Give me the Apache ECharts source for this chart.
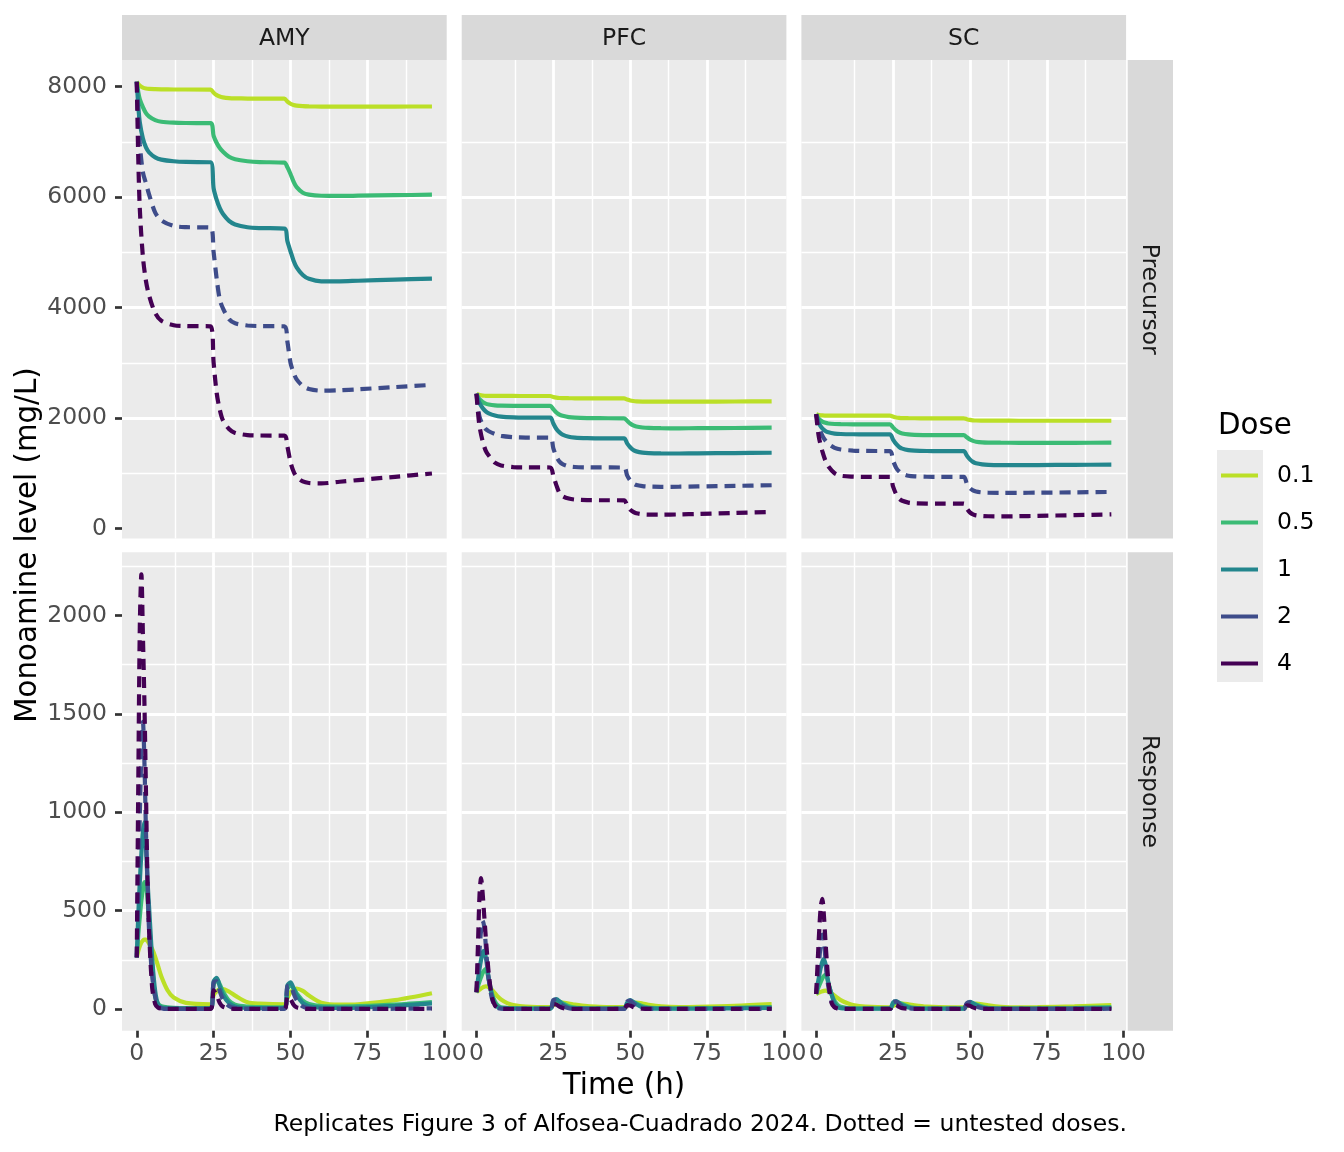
<!DOCTYPE html>
<html>
<head>
<meta charset="utf-8">
<title>Monoamine level by dose</title>
<script src="https://cdn.jsdelivr.net/npm/echarts@6/dist/echarts.min.js"></script>
<style>
  html, body { margin: 0; padding: 0; background: #ffffff; }
  #chart { width: 1344px; height: 1152px; }
</style>
</head>
<body>
<div id="chart"></div>
<script>
// facets
var REGIONS = ['AMY', 'PFC', 'SC'];
var MEASURES = ['Precursor', 'Response'];
var DOSES = ['0.1', '0.5', '1', '2', '4'];
var UNTESTED = [false, false, false, true, true]; // dotted lines

// tick labels
var X_TICKS = [0, 25, 50, 75, 100];
var Y_TICKS_PRE = [0, 2000, 4000, 6000, 8000];
var Y_TICKS_RESP = [0, 500, 1000, 1500, 2000];

// time points (h)
var TIME_PRE = [0, 0.5, 1, 2, 3, 4, 6, 8, 12, 16, 24, 25, 26, 27, 28, 30, 32, 36, 40, 48,
  49, 50, 51, 52, 54, 56, 60, 66, 72, 84, 96];
var TIME_RESP = [0, 0.5, 1, 1.5, 2, 2.5, 3, 3.5, 4, 5, 6, 7, 8, 10, 12, 16, 24,
  25, 26, 27, 28, 30, 32, 36, 40, 48, 49, 50, 51, 52, 54, 56, 60, 66, 72, 84, 96];

// precursor, one row per dose (0.1, 0.5, 1, 2, 4)
var amyPrecursor = [
  [8090, 8050, 8020, 7985, 7968, 7960, 7955, 7952, 7950, 7950, 7948, 7890, 7848, 7822, 7808, 7795, 7790, 7786, 7785, 7784, 7730, 7692, 7670, 7658, 7648, 7644, 7641, 7640, 7640, 7641, 7642],
  [8090, 7900, 7770, 7630, 7520, 7460, 7395, 7365, 7348, 7343, 7340, 7110, 6980, 6890, 6825, 6730, 6685, 6650, 6635, 6625, 6540, 6420, 6280, 6180, 6080, 6045, 6025, 6022, 6026, 6035, 6045],
  [8090, 7650, 7350, 7060, 6900, 6810, 6720, 6680, 6650, 6638, 6632, 6160, 5950, 5800, 5700, 5570, 5505, 5455, 5440, 5430, 5200, 5020, 4850, 4730, 4590, 4520, 4476, 4476, 4486, 4505, 4525],
  [8090, 7400, 6950, 6450, 6250, 6050, 5720, 5580, 5480, 5457, 5450, 5000, 4520, 4145, 3990, 3790, 3715, 3675, 3665, 3660, 3380, 3000, 2820, 2700, 2580, 2525, 2495, 2502, 2520, 2560, 2600],
  [8090, 6690, 5780, 4920, 4480, 4220, 3900, 3760, 3680, 3665, 3660, 3000, 2450, 2150, 1960, 1800, 1730, 1690, 1683, 1680, 1480, 1200, 1030, 935, 850, 822, 815, 845, 875, 935, 995]
];
var pfcPrecursor = [
  [2440, 2425, 2415, 2405, 2402, 2400, 2400, 2399, 2399, 2398, 2398, 2380, 2368, 2362, 2360, 2358, 2357, 2356, 2356, 2355, 2335, 2318, 2308, 2302, 2298, 2297, 2296, 2296, 2297, 2299, 2302],
  [2440, 2380, 2340, 2290, 2260, 2245, 2230, 2224, 2220, 2219, 2218, 2160, 2100, 2060, 2040, 2015, 2005, 1998, 1996, 1994, 1950, 1900, 1865, 1845, 1828, 1820, 1815, 1813, 1815, 1819, 1824],
  [2440, 2340, 2270, 2180, 2120, 2085, 2045, 2025, 2012, 2008, 2006, 1900, 1800, 1740, 1700, 1660, 1645, 1635, 1632, 1630, 1540, 1470, 1420, 1395, 1372, 1363, 1358, 1357, 1360, 1365, 1370],
  [2440, 2200, 2020, 1880, 1800, 1760, 1710, 1675, 1652, 1645, 1642, 1450, 1300, 1210, 1165, 1125, 1112, 1106, 1104, 1103, 960, 870, 815, 785, 765, 757, 753, 755, 760, 770, 782],
  [2440, 2100, 1850, 1580, 1410, 1320, 1190, 1140, 1110, 1105, 1103, 950, 780, 640, 585, 540, 522, 512, 510, 509, 420, 340, 300, 275, 256, 250, 248, 253, 262, 280, 297]
];
var scPrecursor = [
  [2070, 2058, 2052, 2046, 2044, 2043, 2042, 2042, 2042, 2042, 2042, 2025, 2010, 2002, 1998, 1996, 1995, 1994, 1994, 1994, 1978, 1965, 1958, 1954, 1952, 1951, 1951, 1950, 1950, 1950, 1950],
  [2070, 2010, 1975, 1935, 1912, 1900, 1891, 1888, 1886, 1885, 1885, 1830, 1775, 1740, 1720, 1702, 1695, 1691, 1690, 1690, 1650, 1610, 1585, 1570, 1558, 1554, 1552, 1551, 1551, 1551, 1552],
  [2070, 1960, 1890, 1810, 1765, 1740, 1718, 1710, 1705, 1704, 1703, 1610, 1530, 1475, 1445, 1418, 1408, 1402, 1401, 1400, 1320, 1250, 1205, 1180, 1160, 1152, 1147, 1146, 1148, 1151, 1155],
  [2070, 1920, 1820, 1680, 1590, 1530, 1460, 1430, 1410, 1403, 1400, 1230, 1100, 1030, 990, 955, 943, 936, 934, 933, 810, 730, 690, 668, 652, 646, 643, 644, 647, 653, 660],
  [2070, 1800, 1620, 1400, 1230, 1120, 1000, 955, 938, 934, 933, 760, 620, 540, 500, 468, 456, 450, 449, 448, 360, 290, 255, 237, 225, 220, 218, 221, 227, 240, 254]
];

// response, one row per dose
var amyResponse = [
  [262, 295, 320, 338, 348, 352, 352, 345, 333, 305, 265, 215, 165, 95, 58, 31, 24, 70, 90, 100, 101, 88, 68, 34, 27, 23, 55, 85, 98, 104, 92, 68, 32, 22, 24, 45, 80],
  [262, 380, 470, 550, 610, 645, 640, 560, 450, 220, 60, 25, 14, 8, 6, 5, 5, 120, 150, 125, 90, 42, 22, 12, 9, 8, 100, 120, 105, 80, 42, 25, 14, 12, 14, 22, 35],
  [262, 480, 650, 790, 900, 950, 820, 650, 520, 260, 90, 20, 8, 5, 3, 2, 2, 140, 158, 115, 72, 30, 13, 5, 4, 4, 120, 135, 105, 70, 30, 14, 7, 6, 7, 16, 28],
  [262, 650, 1000, 1300, 1460, 1250, 900, 650, 400, 170, 60, 15, 4, 0, 0, 0, 0, 135, 140, 90, 50, 15, 4, 0, 0, 0, 115, 120, 80, 45, 12, 3, 0, 0, 0, 1, 3],
  [262, 1150, 1950, 2210, 1900, 1550, 1100, 644, 400, 110, 25, 6, 2, 0, 0, 0, 0, 95, 70, 30, 12, 3, 0, 0, 0, 0, 65, 50, 22, 8, 2, 0, 0, 0, 0, 0, 1]
];
var pfcResponse = [
  [85, 92, 98, 104, 109, 113, 115, 114, 110, 98, 80, 62, 48, 30, 20, 12, 9, 18, 27, 31, 32, 28, 22, 14, 11, 9, 17, 26, 30, 32, 28, 21, 13, 10, 11, 16, 25],
  [85, 115, 140, 162, 182, 196, 203, 185, 150, 80, 38, 17, 9, 5, 4, 3, 3, 30, 42, 38, 30, 14, 7, 4, 3, 3, 25, 38, 36, 28, 14, 7, 4, 3, 4, 6, 10],
  [85, 150, 205, 250, 285, 295, 265, 215, 150, 70, 25, 9, 4, 2, 1, 1, 1, 42, 50, 38, 24, 8, 3, 1, 1, 1, 32, 45, 36, 24, 8, 3, 1, 1, 1, 3, 6],
  [85, 190, 300, 400, 448, 420, 330, 230, 150, 55, 15, 4, 1, 0, 0, 0, 0, 45, 48, 30, 16, 4, 1, 0, 0, 0, 38, 42, 28, 16, 4, 1, 0, 0, 0, 0, 1],
  [85, 330, 580, 665, 590, 480, 370, 270, 180, 62, 18, 5, 1, 0, 0, 0, 0, 25, 22, 12, 5, 1, 0, 0, 0, 0, 20, 18, 10, 4, 1, 0, 0, 0, 0, 0, 0]
];
var scResponse = [
  [76, 80, 84, 87, 90, 92, 93, 92, 89, 80, 68, 56, 45, 30, 20, 12, 8, 15, 22, 26, 27, 24, 19, 12, 9, 8, 14, 21, 25, 27, 24, 18, 11, 8, 9, 13, 20],
  [76, 100, 120, 138, 155, 167, 173, 160, 130, 75, 40, 20, 11, 5, 3, 3, 3, 25, 34, 31, 25, 12, 6, 3, 3, 3, 20, 30, 29, 23, 12, 6, 3, 3, 3, 5, 9],
  [76, 125, 170, 210, 240, 254, 230, 180, 130, 75, 28, 10, 4, 2, 1, 1, 1, 33, 40, 30, 19, 7, 3, 1, 1, 1, 26, 36, 29, 19, 7, 3, 1, 1, 1, 2, 5],
  [76, 160, 250, 330, 378, 350, 260, 170, 110, 38, 10, 3, 1, 0, 0, 0, 0, 35, 38, 25, 13, 4, 1, 0, 0, 0, 30, 34, 24, 13, 4, 1, 0, 0, 0, 0, 1],
  [76, 240, 400, 520, 560, 480, 350, 235, 140, 30, 8, 2, 0, 0, 0, 0, 0, 22, 20, 10, 4, 1, 0, 0, 0, 0, 18, 16, 8, 3, 1, 0, 0, 0, 0, 0, 0]
];

var PANEL_DATA = [
  [amyPrecursor, pfcPrecursor, scPrecursor],
  [amyResponse, pfcResponse, scResponse]
];
var PANEL_TIME = [TIME_PRE, TIME_RESP];
var PANEL_Y_TICKS = [Y_TICKS_PRE, Y_TICKS_RESP];

// look
var FONT = 'DejaVu Sans';
var COLORS = ['#BBDF27', '#3BBB75', '#23868D', '#3E4C8A', '#440154'];
var COL_LEFT = [122, 461.7, 801.4];
var ROW_TOP = [60, 552.3];
var PANEL_W = 324.7;
var PANEL_H = 478.4;
var X_RANGE = [-4.8, 100.8];
var Y_RANGE = [[-181, 8484], [-110.5, 2321.5]];
var Y_STEP = [2000, 500];

var grids = [], xAxes = [], yAxes = [], series = [];
var gridLine = { color: '#FFFFFF', width: 2.8 };
var minorLine = { color: '#FFFFFF', width: 1.4 };
var tickLine = { color: '#333333', width: 2.7 };
var fmt = function (v) { return String(v); };

for (var r = 0; r < 2; r++) {
  for (var c = 0; c < 3; c++) {
    var idx = grids.length;
    grids.push({
      left: COL_LEFT[c], top: ROW_TOP[r], width: PANEL_W, height: PANEL_H,
      show: true, backgroundColor: '#EBEBEB', borderWidth: 0, containLabel: false
    });
    xAxes.push({
      type: 'value', gridIndex: idx, position: 'bottom',
      min: X_RANGE[0], max: X_RANGE[1],
      minInterval: 25, maxInterval: 25, splitNumber: 4,
      axisLine: { show: false, onZero: false },
      axisTick: { show: r === 1, length: 7, lineStyle: tickLine, customValues: X_TICKS },
      axisLabel: {
        show: r === 1, customValues: X_TICKS, margin: 11, formatter: fmt,
        color: '#4D4D4D', fontSize: 23.5, fontFamily: FONT
      },
      splitLine: { show: true, showMinLine: false, showMaxLine: false, lineStyle: gridLine },
      minorTick: { show: false, splitNumber: 2 },
      minorSplitLine: { show: true, lineStyle: minorLine }
    });
    yAxes.push({
      type: 'value', gridIndex: idx, position: 'left',
      min: Y_RANGE[r][0], max: Y_RANGE[r][1],
      minInterval: Y_STEP[r], maxInterval: Y_STEP[r], splitNumber: 4,
      axisLine: { show: false, onZero: false },
      axisTick: { show: c === 0, length: 7, lineStyle: tickLine, customValues: PANEL_Y_TICKS[r] },
      axisLabel: {
        show: c === 0, customValues: PANEL_Y_TICKS[r], margin: 15, formatter: fmt,
        color: '#4D4D4D', fontSize: 23.5, fontFamily: FONT
      },
      splitLine: { show: true, showMinLine: false, showMaxLine: false, lineStyle: gridLine },
      minorTick: { show: false, splitNumber: 2 },
      minorSplitLine: { show: true, lineStyle: minorLine }
    });
    var rows = PANEL_DATA[r][c];
    var times = PANEL_TIME[r];
    for (var d = 0; d < DOSES.length; d++) {
      series.push({
        type: 'line', name: DOSES[d],
        xAxisIndex: idx, yAxisIndex: idx,
        data: times.map(function (t, k) { return [t, this[k]]; }, rows[d]),
        symbol: 'none', showSymbol: false,
        smooth: 0.3,
        color: COLORS[d],
        itemStyle: { color: COLORS[d], borderWidth: 0 },
        lineStyle: { color: COLORS[d], width: 4.2, type: UNTESTED[d] ? [11, 7] : 'solid', cap: 'butt' },
        emphasis: { disabled: true },
        silent: true,
        z: 2
      });
    }
  }
}

function label(text, x, y, size, color, align, rot) {
  return {
    type: 'text', x: x, y: y, rotation: rot || 0, silent: true, z: 10,
    style: {
      text: text, x: 0, y: 0, fill: color, fontSize: size, fontFamily: FONT,
      align: align, textAlign: align, verticalAlign: 'middle', textVerticalAlign: 'middle'
    }
  };
}

var graphics = [];
// strips on top
for (var c2 = 0; c2 < 3; c2++) {
  graphics.push({ type: 'rect', silent: true, shape: { x: COL_LEFT[c2], y: 15, width: PANEL_W, height: 45 }, style: { fill: '#D9D9D9' } });
  graphics.push(label(REGIONS[c2], COL_LEFT[c2] + PANEL_W / 2, 39, 23.5, '#1A1A1A', 'center'));
}
// strips on the right
for (var r2 = 0; r2 < 2; r2++) {
  graphics.push({ type: 'rect', silent: true, shape: { x: 1127.7, y: ROW_TOP[r2], width: 45.3, height: PANEL_H }, style: { fill: '#D9D9D9' } });
  graphics.push(label(MEASURES[r2], 1149, ROW_TOP[r2] + PANEL_H / 2, 23.5, '#1A1A1A', 'center', -Math.PI / 2));
}
// axis titles and caption
graphics.push(label('Time (h)', 624, 1086, 29.3, '#000000', 'center'));
graphics.push(label('Monoamine level (mg/L)', 28, 545, 29.3, '#000000', 'center', Math.PI / 2));
graphics.push(label('Replicates Figure 3 of Alfosea-Cuadrado 2024. Dotted = untested doses.', 1127, 1125, 23.5, '#000000', 'right'));
// legend title and key background
graphics.push(label('Dose', 1218, 426, 29.3, '#000000', 'left'));
graphics.push({ type: 'rect', silent: true, z: 0, shape: { x: 1217, y: 450, width: 46, height: 232 }, style: { fill: '#EBEBEB' } });

var chart = echarts.init(document.getElementById('chart'), null, { renderer: 'canvas' });
chart.setOption({
  backgroundColor: '#FFFFFF',
  animation: false,
  textStyle: { fontFamily: FONT },
  grid: grids,
  xAxis: xAxes,
  yAxis: yAxes,
  legend: {
    data: DOSES,
    orient: 'vertical',
    left: 1221, top: 463.5,
    padding: 0,
    itemWidth: 37, itemHeight: 4, itemGap: 23,
    icon: 'rect',
    itemStyle: { borderWidth: 0 },
    selectedMode: false,
    textStyle: { fontSize: 23.5, lineHeight: 23, color: '#000000', fontFamily: FONT, padding: [0, 0, 0, 14] }
  },
  graphic: graphics,
  series: series
});
</script>
</body>
</html>
